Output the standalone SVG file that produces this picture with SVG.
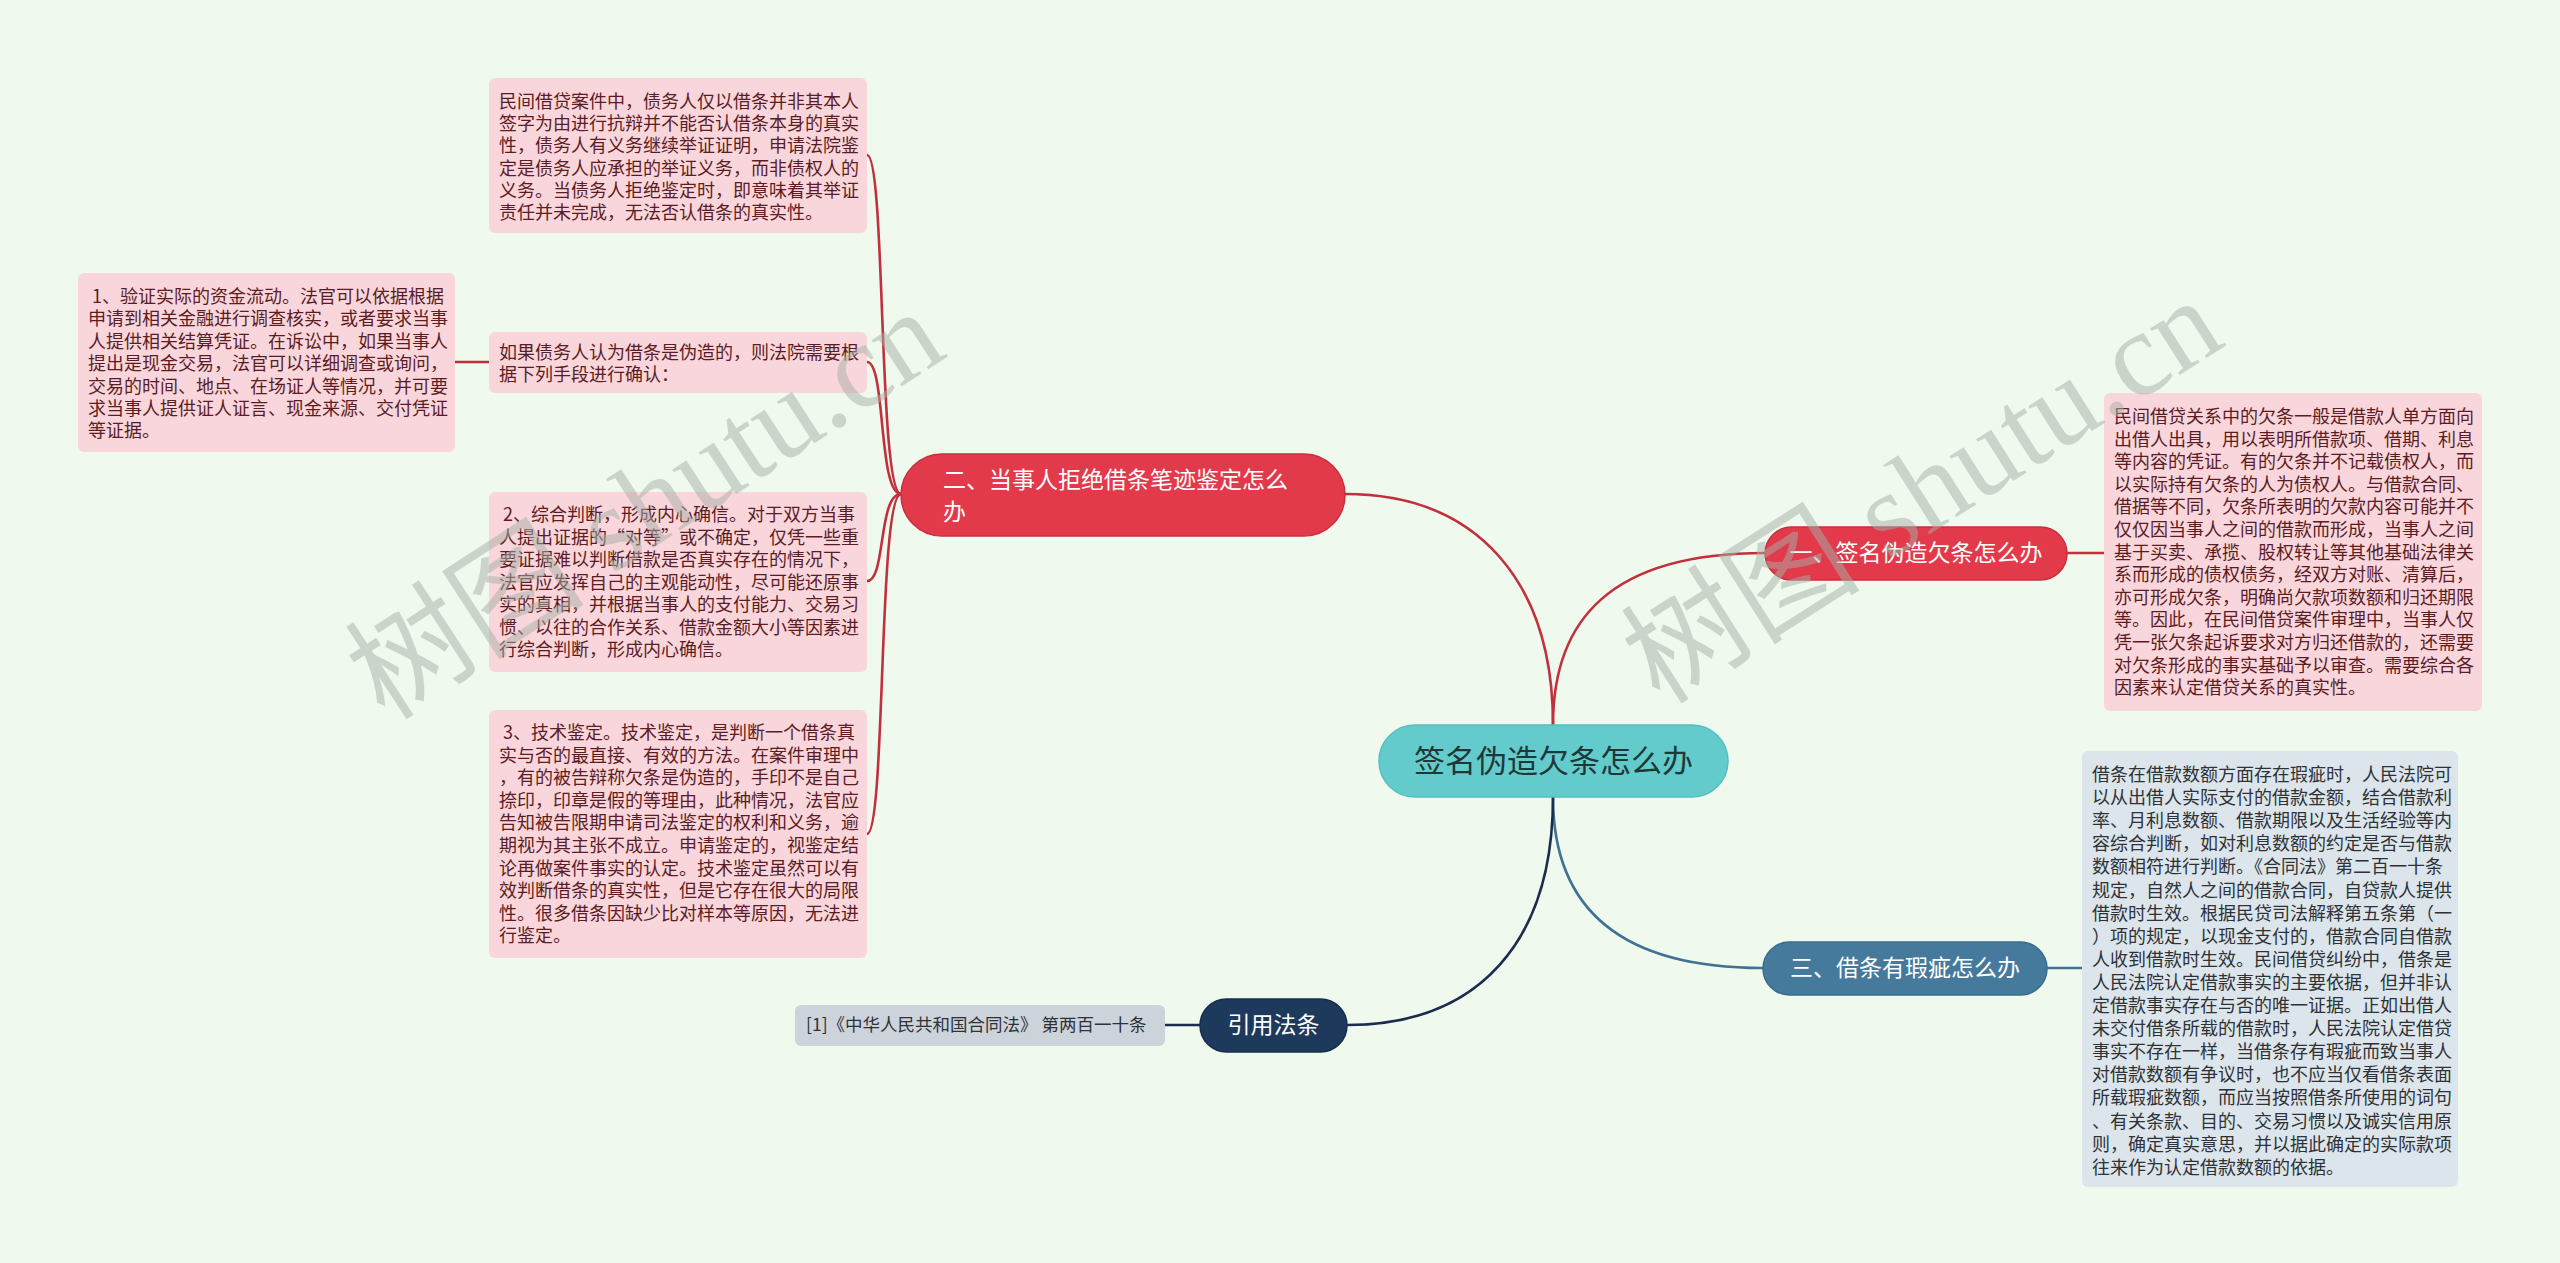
<svg xmlns="http://www.w3.org/2000/svg" width="2560" height="1263" viewBox="0 0 2560 1263">
<style>
.t{font-family:"Noto Sans CJK SC","Noto Sans",sans-serif;font-size:18px}
.pk{fill:#F9D6DB}
.pkt{fill:#5C1C24}
.bl{fill:#DCE5EB}
.blt{fill:#2E3236}
.pill{font-family:"Noto Sans CJK SC","Noto Sans",sans-serif;font-size:23px;fill:#ffffff}
.red{fill:#E23A4A;stroke:#C8303E;stroke-width:1.5}
.c{fill:none;stroke-width:2.6}
.cr{stroke:#C2303D}
.cb{stroke:#3F7292}
.cn{stroke:#1B2C4C}
.wm{font-family:"Liberation Serif","Noto Sans CJK SC",serif;font-size:120px;fill:#A8B0A8;opacity:0.5}
</style>
<rect x="0" y="0" width="2560" height="1263" fill="#EFF9EE"/>
<g id="connectors">
<path class="c cr" d="M1553,725 C1553,620 1610,553 1765,553"/>
<path class="c cr" d="M1553,725 C1553,585 1480,494 1345,494"/>
<path class="c cb" d="M1553,797 C1553,900 1610,968 1763,968"/>
<path class="c cn" d="M1553,797 C1553,940 1480,1025 1347,1025"/>
<path class="c cr" d="M2067,553 L2104,553"/>
<path class="c cb" d="M2047,968 L2082,968"/>
<path class="c cn" d="M1200,1025 L1165,1025"/>
<path class="c cr" d="M901,494 C878,494 886,155 867,155"/>
<path class="c cr" d="M901,494 C878,494 886,362 867,362"/>
<path class="c cr" d="M901,494 C878,494 886,581 867,581"/>
<path class="c cr" d="M901,494 C878,494 886,834 867,834"/>
<path class="c cr" d="M489,362 L455,362"/>
</g>
<g id="root">
<rect x="1379" y="725" width="349" height="72" rx="36" fill="#63CBCC" stroke="#55BFC0" stroke-width="1.5"/>
<text x="1553.5" y="772" text-anchor="middle" style="font-family:'Noto Sans CJK SC',sans-serif;font-size:31px;fill:#1E3838">签名伪造欠条怎么办</text>
</g>
<g id="n1">
<rect class="red" x="1765" y="527" width="302" height="53" rx="26.5"/>
<text class="pill" x="1916" y="561" text-anchor="middle">一、签名伪造欠条怎么办</text>
</g>
<g id="n1-text">
<rect class="pk" x="2104" y="393" width="378" height="318" rx="6"/>
<text class="t pkt" x="2114" y="423">
<tspan x="2114" dy="0">民间借贷关系中的欠条一般是借款人单方面向</tspan>
<tspan x="2114" dy="22.6">出借人出具，用以表明所借款项、借期、利息</tspan>
<tspan x="2114" dy="22.6">等内容的凭证。有的欠条并不记载债权人，而</tspan>
<tspan x="2114" dy="22.6">以实际持有欠条的人为债权人。与借款合同、</tspan>
<tspan x="2114" dy="22.6">借据等不同，欠条所表明的欠款内容可能并不</tspan>
<tspan x="2114" dy="22.6">仅仅因当事人之间的借款而形成，当事人之间</tspan>
<tspan x="2114" dy="22.6">基于买卖、承揽、股权转让等其他基础法律关</tspan>
<tspan x="2114" dy="22.6">系而形成的债权债务，经双方对账、清算后，</tspan>
<tspan x="2114" dy="22.6">亦可形成欠条，明确尚欠款项数额和归还期限</tspan>
<tspan x="2114" dy="22.6">等。因此，在民间借贷案件审理中，当事人仅</tspan>
<tspan x="2114" dy="22.6">凭一张欠条起诉要求对方归还借款的，还需要</tspan>
<tspan x="2114" dy="22.6">对欠条形成的事实基础予以审查。需要综合各</tspan>
<tspan x="2114" dy="22.6">因素来认定借贷关系的真实性。</tspan>
</text>
</g>
<g id="n2">
<rect class="red" x="901" y="454" width="444" height="82" rx="41"/>
<text class="pill" x="943" y="488">二、当事人拒绝借条笔迹鉴定怎么</text>
<text class="pill" x="943" y="520">办</text>
</g>
<g id="n2-a">
<rect class="pk" x="489" y="78" width="378" height="155" rx="6"/>
<text class="t pkt" x="499" y="108">
<tspan x="499" dy="0">民间借贷案件中，债务人仅以借条并非其本人</tspan>
<tspan x="499" dy="22.2">签字为由进行抗辩并不能否认借条本身的真实</tspan>
<tspan x="499" dy="22.2">性，债务人有义务继续举证证明，申请法院鉴</tspan>
<tspan x="499" dy="22.2">定是债务人应承担的举证义务，而非债权人的</tspan>
<tspan x="499" dy="22.2">义务。当债务人拒绝鉴定时，即意味着其举证</tspan>
<tspan x="499" dy="22.2">责任并未完成，无法否认借条的真实性。</tspan>
</text>
</g>
<g id="n2-b">
<rect class="pk" x="489" y="332" width="378" height="61" rx="6"/>
<text class="t pkt" x="499" y="359">
<tspan x="499" dy="0">如果债务人认为借条是伪造的，则法院需要根</tspan>
<tspan x="499" dy="22">据下列手段进行确认：</tspan>
</text>
</g>
<g id="n2-b1">
<rect class="pk" x="78" y="273" width="377" height="179" rx="6"/>
<text class="t pkt" x="88" y="303">
<tspan x="92" dy="0">1、验证实际的资金流动。法官可以依据根据</tspan>
<tspan x="88" dy="22.4">申请到相关金融进行调查核实，或者要求当事</tspan>
<tspan x="88" dy="22.4">人提供相关结算凭证。在诉讼中，如果当事人</tspan>
<tspan x="88" dy="22.4">提出是现金交易，法官可以详细调查或询问，</tspan>
<tspan x="88" dy="22.4">交易的时间、地点、在场证人等情况，并可要</tspan>
<tspan x="88" dy="22.4">求当事人提供证人证言、现金来源、交付凭证</tspan>
<tspan x="88" dy="22.4">等证据。</tspan>
</text>
</g>
<g id="n2-c">
<rect class="pk" x="489" y="492" width="378" height="180" rx="6"/>
<text class="t pkt" x="499" y="521">
<tspan x="503" dy="0">2、综合判断，形成内心确信。对于双方当事</tspan>
<tspan x="499" dy="22.5">人提出证据的“对等”或不确定，仅凭一些重</tspan>
<tspan x="499" dy="22.5">要证据难以判断借款是否真实存在的情况下，</tspan>
<tspan x="499" dy="22.5">法官应发挥自己的主观能动性，尽可能还原事</tspan>
<tspan x="499" dy="22.5">实的真相，并根据当事人的支付能力、交易习</tspan>
<tspan x="499" dy="22.5">惯、以往的合作关系、借款金额大小等因素进</tspan>
<tspan x="499" dy="22.5">行综合判断，形成内心确信。</tspan>
</text>
</g>
<g id="n2-d">
<rect class="pk" x="489" y="710" width="378" height="248" rx="6"/>
<text class="t pkt" x="499" y="739">
<tspan x="503" dy="0">3、技术鉴定。技术鉴定，是判断一个借条真</tspan>
<tspan x="499" dy="22.6">实与否的最直接、有效的方法。在案件审理中</tspan>
<tspan x="499" dy="22.6">，有的被告辩称欠条是伪造的，手印不是自己</tspan>
<tspan x="499" dy="22.6">捺印，印章是假的等理由，此种情况，法官应</tspan>
<tspan x="499" dy="22.6">告知被告限期申请司法鉴定的权利和义务，逾</tspan>
<tspan x="499" dy="22.6">期视为其主张不成立。申请鉴定的，视鉴定结</tspan>
<tspan x="499" dy="22.6">论再做案件事实的认定。技术鉴定虽然可以有</tspan>
<tspan x="499" dy="22.6">效判断借条的真实性，但是它存在很大的局限</tspan>
<tspan x="499" dy="22.6">性。很多借条因缺少比对样本等原因，无法进</tspan>
<tspan x="499" dy="22.6">行鉴定。</tspan>
</text>
</g>
<g id="n3">
<rect x="1763" y="942" width="284" height="53" rx="26.5" fill="#457A9C" stroke="#3B6C8C" stroke-width="1.5"/>
<text class="pill" x="1905" y="976" text-anchor="middle">三、借条有瑕疵怎么办</text>
</g>
<g id="n3-text">
<rect class="bl" x="2082" y="751" width="376" height="436" rx="6"/>
<text class="t blt" x="2092" y="781">
<tspan x="2092" dy="0">借条在借款数额方面存在瑕疵时，人民法院可</tspan>
<tspan x="2092" dy="23.1">以从出借人实际支付的借款金额，结合借款利</tspan>
<tspan x="2092" dy="23.1">率、月利息数额、借款期限以及生活经验等内</tspan>
<tspan x="2092" dy="23.1">容综合判断，如对利息数额的约定是否与借款</tspan>
<tspan x="2092" dy="23.1">数额相符进行判断。《合同法》第二百一十条</tspan>
<tspan x="2092" dy="23.1">规定，自然人之间的借款合同，自贷款人提供</tspan>
<tspan x="2092" dy="23.1">借款时生效。根据民贷司法解释第五条第（一</tspan>
<tspan x="2092" dy="23.1">）项的规定，以现金支付的，借款合同自借款</tspan>
<tspan x="2092" dy="23.1">人收到借款时生效。民间借贷纠纷中，借条是</tspan>
<tspan x="2092" dy="23.1">人民法院认定借款事实的主要依据，但并非认</tspan>
<tspan x="2092" dy="23.1">定借款事实存在与否的唯一证据。正如出借人</tspan>
<tspan x="2092" dy="23.1">未交付借条所载的借款时，人民法院认定借贷</tspan>
<tspan x="2092" dy="23.1">事实不存在一样，当借条存有瑕疵而致当事人</tspan>
<tspan x="2092" dy="23.1">对借款数额有争议时，也不应当仅看借条表面</tspan>
<tspan x="2092" dy="23.1">所载瑕疵数额，而应当按照借条所使用的词句</tspan>
<tspan x="2092" dy="23.1">、有关条款、目的、交易习惯以及诚实信用原</tspan>
<tspan x="2092" dy="23.1">则，确定真实意思，并以据此确定的实际款项</tspan>
<tspan x="2092" dy="23.1">往来作为认定借款数额的依据。</tspan>
</text>
</g>
<g id="n4">
<rect x="1200" y="999" width="147" height="53" rx="26.5" fill="#1D3A5C" stroke="#172F4C" stroke-width="1.5"/>
<text class="pill" x="1273.5" y="1033" text-anchor="middle">引用法条</text>
</g>
<g id="n4-text">
<rect x="795" y="1005" width="370" height="41" rx="6" fill="#CDD3DB"/>
<text x="806" y="1031" style="font-family:'Noto Sans CJK SC',sans-serif;font-size:17.5px;fill:#2E3236">[1]《中华人民共和国合同法》 第两百一十条</text>
</g>
<g id="watermarks">
<text class="wm" transform="translate(385,722) rotate(-33)">树图 shutu.cn</text>
<text class="wm" transform="translate(1660,706) rotate(-32.5)">树图 shutu.cn</text>
</g>
</svg>
